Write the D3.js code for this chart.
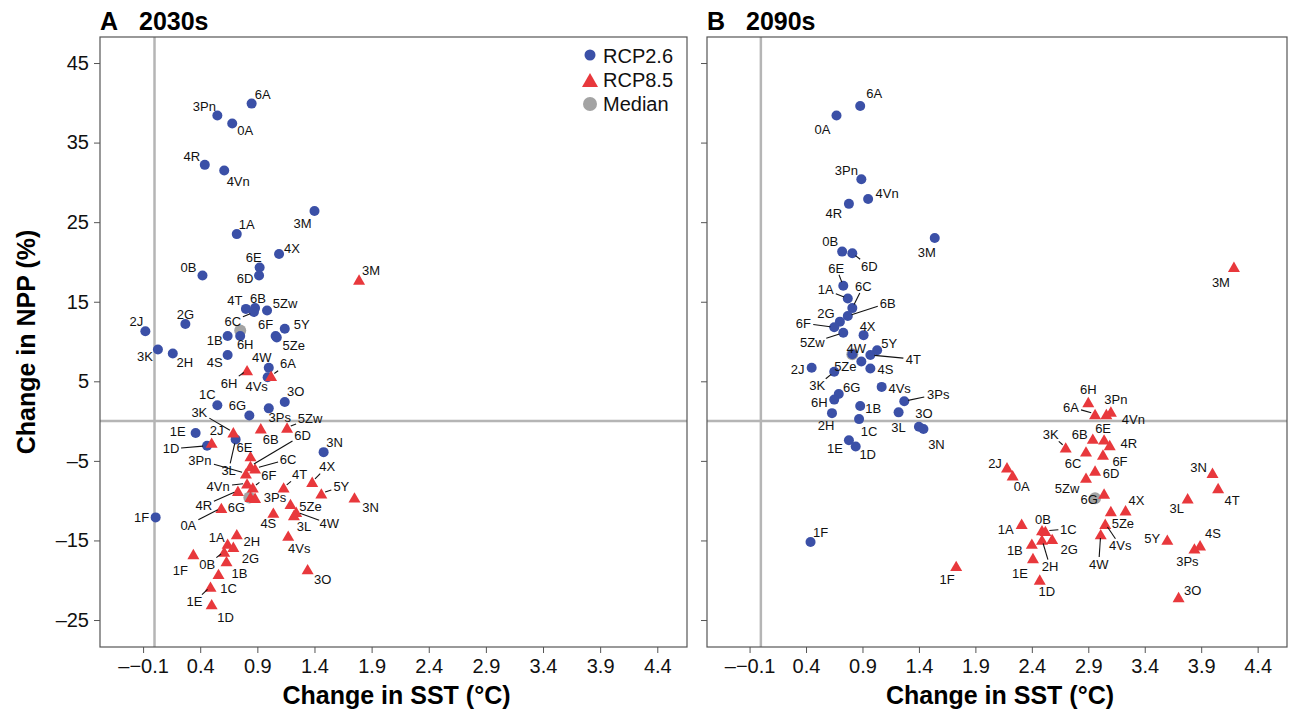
<!DOCTYPE html>
<html lang="en">
<head>
<meta charset="utf-8">
<title>Change in NPP vs change in SST</title>
<script src="https://cdn.jsdelivr.net/npm/d3@7/dist/d3.min.js"></script>
<style>
  body { margin: 0; background: #fff; }
  svg text { font-family: "Liberation Sans", Arial, Helvetica, sans-serif; }
</style>
</head>
<body>
<svg id="chart" width="1291" height="713"></svg>
<script type="text/javascript">

//////////////////////////////////////
// data: [region, change in SST (°C), change in NPP (%)]

var xTicks = [-0.1, 0.4, 0.9, 1.4, 1.9, 2.4, 2.9, 3.4, 3.9, 4.4];
var yTicks = [45, 35, 25, 15, 5, -5, -15, -25];

var rcp26_2030s = [
  ["6A",0.85,39.9],["3Pn",0.55,38.4],["0A",0.68,37.4],["4R",0.44,32.2],["4Vn",0.61,31.5],
  ["3M",1.40,26.4],["1A",0.72,23.5],["4X",1.09,21.0],["6E",0.92,19.3],["6D",0.915,18.3],
  ["0B",0.42,18.3],["4T",0.80,14.1],["6B",0.88,14.2],["6C",0.87,13.7],["5Zw",0.985,13.9],
  ["2G",0.27,12.2],["2J",-0.08,11.3],["6F",1.06,10.7],["5Y",1.14,11.6],["5Ze",1.07,10.5],
  ["1B",0.64,10.7],["6H",0.75,10.7],["3K",0.03,9.0],["2H",0.16,8.5],["4S",0.64,8.3],
  ["4W",1.00,6.7],["4Vs",0.99,5.5],["3O",1.14,2.4],["1C",0.55,2.0],["6G",0.83,0.7],
  ["3Ps",1.00,1.6],["1E",0.36,-1.5],["1D",0.46,-3.1],["3L",0.71,-2.3],["3N",1.48,-3.9],
  ["1F",0.01,-12.1]
];

var rcp85_2030s = [
  ["3M",1.79,17.8],["6H",0.81,6.4],["6A",1.02,5.7],["6B",0.93,-0.9],["5Zw",1.16,-0.8],
  ["2J",0.50,-2.7],["3K",0.69,-1.4],["6E",0.84,-4.4],["6D",0.84,-5.65],["6C",0.88,-5.94],
  ["3Pn",0.80,-6.57],["6F",0.86,-8.33],["4Vn",0.81,-7.83],["4R",0.73,-8.75],["6G",0.84,-9.5],
  ["3Ps",0.88,-9.63],["0A",0.585,-10.9],["4T",1.13,-8.33],["4X",1.38,-7.62],["5Y",1.46,-9.09],
  ["3N",1.75,-9.59],["5Ze",1.19,-10.4],["4W",1.24,-11.4],["3L",1.22,-11.8],["4S",1.04,-11.5],
  ["4Vs",1.17,-14.4],["3O",1.34,-18.6],["1A",0.64,-15.4],["2H",0.72,-14.2],["2G",0.69,-15.8],
  ["0B",0.61,-16.4],["1B",0.63,-17.6],["1F",0.34,-16.7],["1C",0.56,-19.2],["1E",0.49,-20.8],
  ["1D",0.50,-23.0]
];

var median_2030s = [[0.75,11.4],[0.83,-9.6]];

var rcp26_2090s = [
  ["6A",0.88,39.6],["0A",0.67,38.4],["3Pn",0.89,30.4],["4Vn",0.95,27.9],["4R",0.78,27.3],
  ["3M",1.54,23.0],["0B",0.72,21.3],["6D",0.81,21.1],["6E",0.73,17.0],["1A",0.77,15.4],
  ["6C",0.81,14.2],["6B",0.77,13.2],["2G",0.70,12.5],["6F",0.65,11.8],["5Zw",0.73,11.1],
  ["4X",0.91,10.8],["4W",0.81,8.4],["5Y",1.03,8.9],["4T",0.97,8.3],["5Ze",0.89,7.5],
  ["4S",0.97,6.6],["2J",0.45,6.7],["3K",0.65,6.2],["4Vs",1.07,4.3],["6G",0.69,3.4],
  ["6H",0.65,2.7],["3Ps",1.27,2.5],["1B",0.88,1.9],["2H",0.63,1.0],["3L",1.22,1.1],
  ["3O",1.40,-0.7],["3N",1.44,-1.0],["1C",0.87,0.25],["1E",0.78,-2.4],["1D",0.84,-3.2],
  ["1F",0.44,-15.2]
];

var rcp85_2090s = [
  ["6H",2.90,2.4],["6A",2.96,0.9],["3Pn",3.10,1.2],["4Vn",3.06,0.9],["6E",3.04,-2.3],
  ["4R",3.09,-3.0],["6B",2.94,-2.2],["3K",2.70,-3.3],["6C",2.88,-3.8],["6F",3.03,-4.2],
  ["6D",2.96,-6.2],["5Zw",2.88,-7.1],["6G",3.04,-9.1],["2J",2.18,-5.8],["0A",2.23,-6.8],
  ["4X",3.23,-11.2],["5Ze",3.10,-11.3],["4Vs",3.05,-12.9],["4W",3.01,-14.2],["1A",2.31,-12.9],
  ["0B",2.49,-13.7],["1C",2.52,-13.8],["2G",2.58,-14.8],["2H",2.49,-14.9],["1B",2.40,-15.4],
  ["1E",2.41,-17.2],["1D",2.47,-19.9],["1F",1.73,-18.2],["3M",4.19,19.4],["3N",4.00,-6.5],
  ["4T",4.05,-8.4],["3L",3.78,-9.7],["5Y",3.60,-14.9],["4S",3.89,-15.6],["3Ps",3.84,-16.0],
  ["3O",3.70,-22.1]
];

var median_2090s = [[0.81,8.4],[2.96,-9.7]];

//////////////////////////////////////
// label placement (px offset from the marker, third item = leader line)

var nudge26A = {"6A":[11,-9],"3Pn":[-13,-9],"0A":[13,7],"4R":[-13,-9],"4Vn":[14,11],"3M":[-12,12],
  "1A":[10,-10],"4X":[13,-6],"6E":[-6,-10],"6D":[-14,3],"0B":[-14,-8],"4T":[-11,-9],"6B":[3,-10],
  "6C":[-21,9,1],"5Zw":[18,-7],"2G":[0,-10],"2J":[-9,-10],"6F":[-10,-12],"5Y":[17,-4],"5Ze":[17,8],
  "1B":[-13,4],"6H":[5,8],"3K":[-13,7],"2H":[12,9],"4S":[-13,7],"4W":[-7,-10],"4Vs":[-11,9],
  "3O":[11,-11],"1C":[-10,-11],"6G":[-12,-10],"3Ps":[11,9],"1E":[-18,-2],"1D":[-36,3,1],
  "3L":[-7,31,1],"3N":[11,-10],"1F":[-14,0]};

var nudge85A = {"3M":[12,-9],"6H":[-18,13,1],"6A":[17,-12,1],"6B":[10,11],"5Zw":[23,-9,1],
  "2J":[5,-12],"3K":[-34,-20,1],"6E":[-6,-9],"6D":[52,-31,1],"6C":[33,-9,1],"3Pn":[-46,-13,1],
  "6F":[16,-12,1],"4Vn":[-29,3,1],"4R":[-34,15,1],"6G":[-14,11],"3Ps":[20,0],"0A":[-33,17,1],
  "4T":[16,-13,1],"4X":[15,-15,1],"5Y":[20,-7,1],"3N":[16,10],"5Ze":[20,2],"4W":[33,12,1],
  "3L":[10,11],"4S":[-5,11],"4Vs":[11,13],"3O":[15,10],"1A":[-11,-6],"2H":[15,7],"2G":[17,12],
  "0B":[-17,13,1],"1B":[13,12],"1F":[-13,16],"1C":[10,14],"1E":[-16,15,1],"1D":[14,13]};

var nudge26B = {"6A":[14,-13],"0A":[-14,14],"3Pn":[-15,-9],"4Vn":[19,-6],"4R":[-15,9],"3M":[-8,14],
  "0B":[-12,-10],"6D":[17,13,1],"6E":[-7,-18,1],"1A":[-22,-9,1],"6C":[11,-22,1],"6B":[40,-13,1],
  "2G":[-14,-8],"6F":[-31,-4,1],"5Zw":[-31,10,1],"4X":[4,-9],"4W":[4,-6],"5Y":[12,-7],
  "4T":[43,4,1],"5Ze":[-16,5],"4S":[15,1],"2J":[-14,2],"3K":[-17,14,1],"4Vs":[18,1],"6G":[13,-7],
  "6H":[-15,3],"3Ps":[34,-7,1],"1B":[13,2],"2H":[-6,12],"3L":[0,15],"3O":[5,-13],"3N":[13,15],
  "1C":[10,12],"1E":[-14,8],"1D":[12,8],"1F":[10,-10]};

var nudge85B = {"6H":[0,-13],"6A":[-24,-7,1],"3Pn":[5,-12],"4Vn":[27,5],"6E":[-1,-11],"4R":[19,-2],
  "6B":[-13,-4],"3K":[-15,-13,1],"6C":[-13,12],"6F":[17,7],"6D":[16,3],"5Zw":[-19,11],"6G":[-15,6],
  "2J":[-12,-4],"0A":[9,11],"4X":[11,-10],"5Ze":[12,12],"4Vs":[15,22,1],"4W":[-2,30,1],
  "1A":[-16,6],"0B":[1,-11],"1C":[23,-2,1],"2G":[17,10],"2H":[8,27,1],"1B":[-17,7],"1E":[-13,15],
  "1D":[7,12],"1F":[-9,13],"3M":[-13,16],"3N":[-14,-5],"4T":[14,12],"3L":[-11,10],"5Y":[-15,-1],
  "4S":[13,-12],"3Ps":[-7,13],"3O":[14,-7]};

//////////////////////////////////////
// layout

var BLUE = "#3b50a7", RED = "#e8383c", GREY = "#a3a3a3";
var plotTop = 37, plotBottom = 647;
var svg = d3.select("#chart");

var y = d3.scaleLinear().domain([-28.39, 48.27]).range([plotBottom, plotTop]);

function dash(v, s) { return v < 0 ? "\u2013" + s.replace("-", "") : s; }

function triPath(cx, cy, s) {
  var h = s * 0.866;
  return "M" + cx + "," + (cy - h / 2) + "L" + (cx + s / 2) + "," + (cy + h / 2) +
         "L" + (cx - s / 2) + "," + (cy + h / 2) + "Z";
}

function drawLabels(g, data, x, nudge) {
  data.forEach(function(d) {
    var n = nudge[d[0]] || [8, -8];
    var px = x(d[1]), py = y(d[2]);
    var lx = px + n[0], ly = py + n[1];
    if (n[2]) {
      var L = Math.sqrt(n[0] * n[0] + n[1] * n[1]);
      var ux = n[0] / L, uy = n[1] / L;
      var hw = d[0].length * 4 + 2, hh = 7;
      var t = Math.min(ux === 0 ? 1e9 : hw / Math.abs(ux), uy === 0 ? 1e9 : hh / Math.abs(uy));
      g.append("line")
        .attr("x1", px + ux * 4).attr("y1", py + uy * 4)
        .attr("x2", lx - ux * t).attr("y2", ly - uy * t)
        .attr("stroke", "#111").attr("stroke-width", 1.1);
    }
    g.append("text")
      .attr("x", lx).attr("y", ly).attr("dy", "0.36em")
      .attr("text-anchor", "middle")
      .attr("font-size", 13).attr("fill", "#111")
      .text(d[0]);
  });
}

function drawPanel(o) {
  var x = d3.scaleLinear().domain([-0.477, 4.66]).range([o.left, o.right]);
  var g = svg.append("g");

  // zero lines
  g.append("line").attr("x1", x(0)).attr("x2", x(0)).attr("y1", plotTop).attr("y2", plotBottom)
    .attr("stroke", "#b5b5b5").attr("stroke-width", 2.5);
  g.append("line").attr("x1", o.left).attr("x2", o.right).attr("y1", y(0)).attr("y2", y(0))
    .attr("stroke", "#b5b5b5").attr("stroke-width", 2.5);

  // frame
  g.append("rect").attr("x", o.left).attr("y", plotTop)
    .attr("width", o.right - o.left).attr("height", plotBottom - plotTop)
    .attr("fill", "none").attr("stroke", "#555").attr("stroke-width", 1.2);

  // axes
  var ax = g.append("g").attr("transform", "translate(0," + plotBottom + ")")
    .call(d3.axisBottom(x).tickValues(xTicks).tickSize(6).tickPadding(6)
      .tickFormat(function(d) { return dash(d, d3.format(".1f")(d)); }));
  var ay = g.append("g").attr("transform", "translate(" + o.left + ",0)")
    .call(d3.axisLeft(y).tickValues(yTicks).tickSize(6).tickPadding(5)
      .tickFormat(function(d) { return o.yLabels ? dash(d, String(d)) : ""; }));
  [ax, ay].forEach(function(a) {
    a.select(".domain").remove();
    a.selectAll(".tick line").attr("stroke", "#555");
    a.selectAll("text").attr("font-size", 20).attr("fill", "#111")
      .style("font-family", "'Liberation Sans', Arial, sans-serif");
  });

  // markers
  g.selectAll(".med").data(o.median).enter().append("circle")
    .attr("cx", function(d) { return x(d[0]); }).attr("cy", function(d) { return y(d[1]); })
    .attr("r", 6).attr("fill", GREY);
  g.selectAll(".r26").data(o.rcp26).enter().append("circle")
    .attr("cx", function(d) { return x(d[1]); }).attr("cy", function(d) { return y(d[2]); })
    .attr("r", 5).attr("fill", BLUE);
  g.selectAll(".r85").data(o.rcp85).enter().append("path")
    .attr("d", function(d) { return triPath(x(d[1]), y(d[2]), 12); })
    .attr("fill", RED);

  drawLabels(g, o.rcp26, x, o.nudge26);
  drawLabels(g, o.rcp85, x, o.nudge85);

  // titles
  g.append("text").attr("x", o.left).attr("y", 30)
    .attr("font-size", 25).attr("font-weight", "bold").text(o.letter);
  g.append("text").attr("x", o.left + 39).attr("y", 30)
    .attr("font-size", 25).attr("font-weight", "bold").text(o.period);
  g.append("text").attr("x", (o.left + o.right) / 2 + 3).attr("y", 704)
    .attr("text-anchor", "middle").attr("font-size", 25).attr("font-weight", "bold")
    .text("Change in SST (\u00B0C)");
}

drawPanel({left: 100, right: 687, letter: "A", period: "2030s", yLabels: true,
  rcp26: rcp26_2030s, rcp85: rcp85_2030s, median: median_2030s,
  nudge26: nudge26A, nudge85: nudge85A});
drawPanel({left: 707, right: 1287, letter: "B", period: "2090s", yLabels: false,
  rcp26: rcp26_2090s, rcp85: rcp85_2090s, median: median_2090s,
  nudge26: nudge26B, nudge85: nudge85B});

// y axis title
svg.append("text").attr("transform", "translate(35,342) rotate(-90)")
  .attr("text-anchor", "middle").attr("font-size", 25).attr("font-weight", "bold")
  .text("Change in NPP (%)");

//////////////////////////////////////
// legend
var leg = svg.append("g");
leg.append("circle").attr("cx", 590).attr("cy", 55).attr("r", 5.5).attr("fill", BLUE);
leg.append("path").attr("d", triPath(590, 80, 16)).attr("fill", RED);
leg.append("circle").attr("cx", 590).attr("cy", 104).attr("r", 7).attr("fill", GREY);
[["RCP2.6", 62.5], ["RCP8.5", 87], ["Median", 111]].forEach(function(l) {
  leg.append("text").attr("x", 603).attr("y", l[1]).attr("font-size", 20).attr("fill", "#111").text(l[0]);
});

</script>
</body>
</html>
